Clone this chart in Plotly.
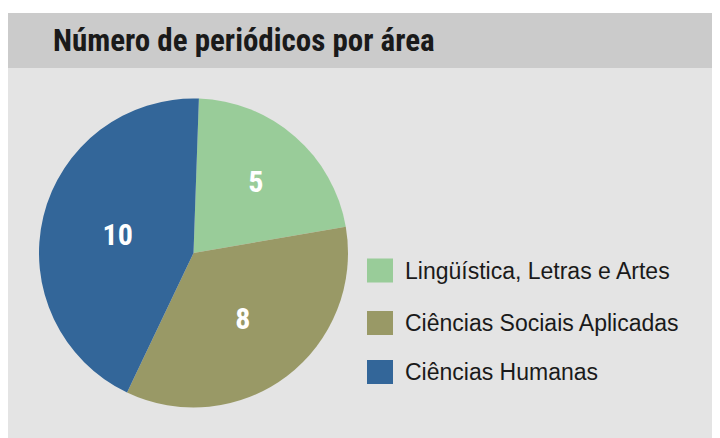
import plotly.graph_objects as go

W, H = 720, 438

categories = ["Lingüística, Letras e Artes", "Ciências Sociais Aplicadas", "Ciências Humanas"]
values = [5, 8, 10]
colors = ["#99cc99", "#999966", "#336699"]
title_text = "Número de periódicos por área"

OFF = 8  # page body margin in the browser

def px(x):
    return (x - OFF) / W

def py(y):
    return 1 - (y - OFF) / H

NARROW = "Liberation Sans Narrow, Arial Narrow, Roboto Condensed, Liberation Sans, sans-serif"
REG = "Liberation Sans, Arial, sans-serif"

cx, cy, r = 193.5, 253, 154.5

fig = go.Figure(go.Pie(
    labels=categories,
    values=values,
    marker=dict(colors=colors, line=dict(width=0)),
    sort=False,
    direction="clockwise",
    rotation=2,
    textinfo="value",
    textposition="inside",
    insidetextorientation="horizontal",
    textfont=dict(family=NARROW, size=30, color="white", weight="bold"),
    domain=dict(x=[px(cx - r), px(cx + r)], y=[py(cy + r), py(cy - r)]),
    showlegend=False,
    hoverinfo="label+value",
))

shapes = [
    dict(type="rect", xref="paper", yref="paper", x0=0, x1=1, y0=py(68), y1=py(13),
         fillcolor="#cbcbcb", line=dict(width=0), layer="below"),
    dict(type="rect", xref="paper", yref="paper", x0=0, x1=1, y0=0, y1=py(68),
         fillcolor="#e4e4e4", line=dict(width=0), layer="below"),
]
annotations = [
    dict(text="<b>" + title_text + "</b>", xref="paper", yref="paper", x=px(51), y=py(41),
         xanchor="left", yanchor="middle", showarrow=False,
         font=dict(family=NARROW, size=31, color="#1a1a1a")),
]

leg_y = [270.5, 323, 372]
for name, col, yc in zip(categories, colors, leg_y):
    shapes.append(dict(type="rect", xref="paper", yref="paper",
                       x0=px(367), x1=px(393), y0=py(yc + 12), y1=py(yc - 12),
                       fillcolor=col, line=dict(width=0)))
    annotations.append(dict(text=name, xref="paper", yref="paper", x=px(403), y=py(yc),
                            xanchor="left", yanchor="middle", showarrow=False,
                            font=dict(family=REG, size=23, color="#1a1a1a")))

fig.update_layout(
    width=W, height=H,
    margin=dict(l=0, r=0, t=0, b=0),
    paper_bgcolor="white",
    plot_bgcolor="white",
    shapes=shapes,
    annotations=annotations,
)

fig.write_html("out.html")
